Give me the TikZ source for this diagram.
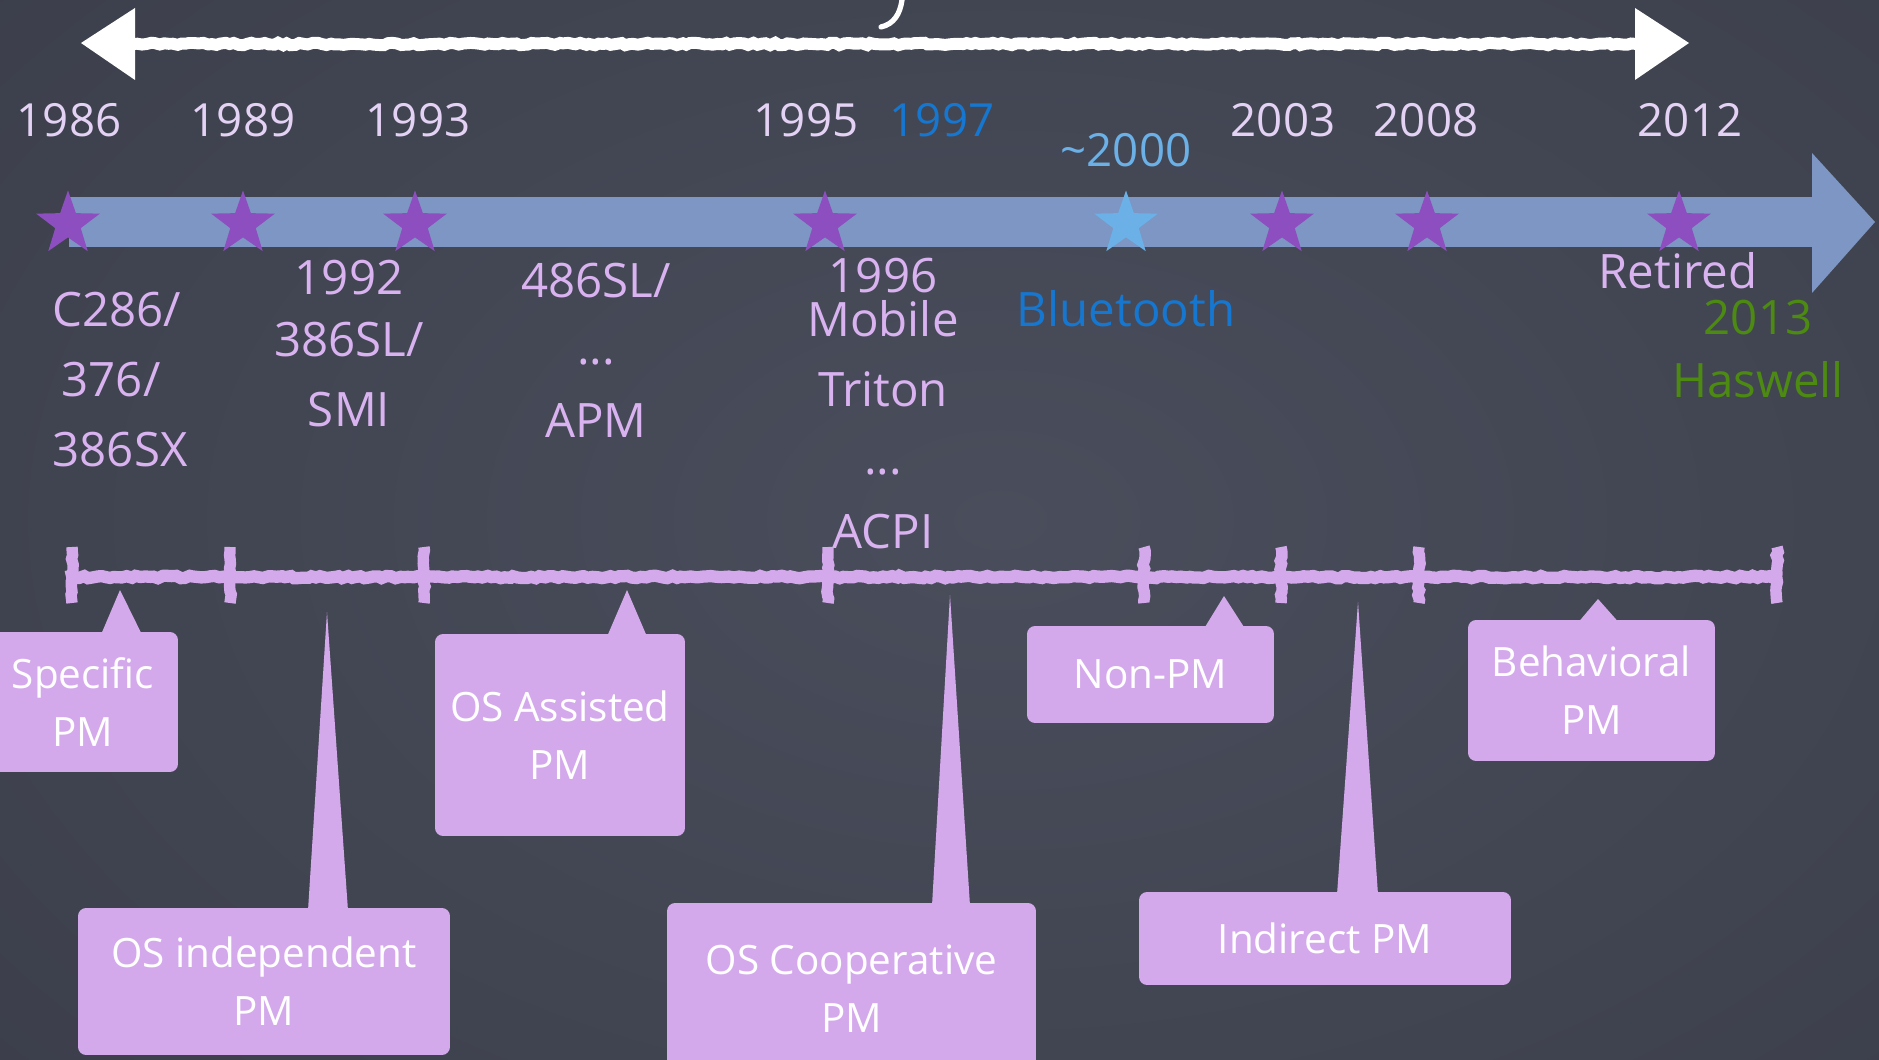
\documentclass[tikz,border=0pt]{standalone}
\usepackage{fontspec}
\setmainfont{Open Sans}
\usetikzlibrary{shapes.geometric,calc,decorations.pathmorphing}
\definecolor{board}{HTML}{3B3E4A}
\definecolor{boardlight}{HTML}{4A4E5C}
\definecolor{yearcol}{HTML}{E4D2F4}
\definecolor{labcol}{HTML}{D9B2F0}
\definecolor{boxcol}{HTML}{D4A9EC}
\definecolor{starcol}{HTML}{8D4FBF}
\definecolor{bandcol}{HTML}{7D96C3}
\definecolor{btblue}{HTML}{1677D0}
\definecolor{skyblue}{HTML}{6BB0E6}
\definecolor{hasgreen}{HTML}{4C8A12}
\pgfmathsetseed{7}
\begin{document}
\begin{tikzpicture}[x=0.02cm,y=-0.02cm,
  yr/.style={anchor=base,inner sep=0,text=yearcol,font=\fontsize{26}{30}\selectfont},
  lab/.style={anchor=base,inner sep=0,text=labcol,font=\fontsize{27}{32}\selectfont},
  pmbox/.style={fill=boxcol,rounded corners=0.16cm,text=white,align=center,inner sep=0,
    font=\fontsize{23}{33}\selectfont},
  pointer/.style={fill=boxcol},
  pstar/.style={star,star points=5,star point ratio=2.5,minimum size=1.34cm,inner sep=0,
    fill=starcol,draw=none},
  chalk/.style={line width=7pt,decorate,decoration={random steps,segment length=2.5pt,amplitude=0.7pt}},
]
\useasboundingbox (0,0) rectangle (1879,1060);

% chalkboard
\fill[board] (0,0) rectangle (1879,1060);
\begin{scope}
  \clip (0,0) rectangle (1879,1060);
  \shade[inner color=boardlight,outer color=board] (1000,520) ellipse (1400 and 900);
\end{scope}

% white chalk arrow across the top
\coordinate (aL) at (81,43);
\coordinate (aR) at (1689,43);
\draw[white,chalk,line width=6.8pt] (133,44) -- (1637,44);
\fill[white] (aL) -- (135,8) -- (135,80) -- cycle;
\fill[white] (aR) -- (1635,8) -- (1635,80) -- cycle;
\draw[white,line width=3pt,line cap=round] (902,0) .. controls (900,14) and (894,24) .. (881,27);

% years above the band
\node[yr] (y1986) at (69,137) {1986};
\node[yr] (y1989) at (243,137) {1989};
\node[yr] (y1993) at (418,137) {1993};
\node[yr] (y1995) at (806,137) {1995};
\node[yr,text=btblue] (y1997) at (942,137) {1997};
\node[yr,text=skyblue] (y2000) at (1126,167) {\textasciitilde2000};
\node[yr] (y2003) at (1283,137) {2003};
\node[yr] (y2008) at (1426,137) {2008};
\node[yr] (y2012) at (1690,137) {2012};

% blue band arrow
\fill[bandcol] (69,197) rectangle (1813,247);
\fill[bandcol] (1812,153) -- (1875,222) -- (1812,293) -- cycle;

% milestone stars
\foreach \n/\x in {s1/68,s2/243,s3/415,s4/825,s6/1282,s7/1427,s8/1679}
  \node[pstar] (\n) at (\x,224) {};
\node[pstar,fill=skyblue] (s5) at (1126,224) {};

% labels below the band
\node[lab] (c1a) at (117,327) {C286/};
\node[lab] (c1b) at (111,397) {376/};
\node[lab] (c1c) at (120,467) {386SX};
\node[lab] (c2a) at (349,295) {1992};
\node[lab] (c2b) at (349,357) {386SL/};
\node[lab] (c2c) at (349,427) {SMI};
\node[lab] (c3a) at (596,298) {486SL/};
\node[lab] (c3b) at (596,365) {...};
\node[lab] (c3c) at (596,438) {APM};
\node[lab] (c4a) at (883,293) {1996};
\node[lab] (c4b) at (883,337) {Mobile};
\node[lab] (c4c) at (883,407) {Triton};
\node[lab] (c4d) at (883,475) {...};
\node[lab] (c4e) at (883,548) {ACPI};
\node[lab,text=btblue] (bt) at (1126,327) {Bluetooth};
\node[lab] (ret) at (1678,289) {Retired};
\node[lab,text=hasgreen] (y2013) at (1758,335) {2013};
\node[lab,text=hasgreen] (has) at (1758,398) {Haswell};

% chalk timeline with ticks
\coordinate (tl0) at (66,577);
\coordinate (tl1) at (1779,577);
\draw[boxcol,chalk] (tl0) -- (tl1);
\foreach \x in {72,230,424,828,1144,1281,1419,1777}
  \draw[boxcol,chalk,line width=6.5pt] (\x,547) -- (\x,603);

% callout tips on the timeline
\coordinate (pA) at (120,590);
\coordinate (pB) at (327,612);
\coordinate (pC) at (627,590);
\coordinate (pD) at (950,595);
\coordinate (pE) at (1224,596);
\coordinate (pF) at (1358,602);
\coordinate (pG) at (1598,599);

% callout boxes
\node[pmbox,minimum width=3.8cm,minimum height=2.8cm] (spec) at (83,702) {Specific\\PM};
\node[pmbox,minimum width=7.44cm,minimum height=2.94cm] (osind) at (264,981.5) {OS independent\\PM};
\node[pmbox,minimum width=5cm,minimum height=4.04cm] (osass) at (560,735) {OS Assisted\\PM};
\node[pmbox,minimum width=7.38cm,minimum height=3.44cm] (oscoop) at (851.5,989) {OS Cooperative\\PM};
\node[pmbox,minimum width=4.94cm,minimum height=1.94cm] (nonpm) at (1150.5,674.5) {Non-PM};
\node[pmbox,minimum width=7.44cm,minimum height=1.86cm] (indir) at (1325,938.5) {Indirect PM};
\node[pmbox,minimum width=4.94cm,minimum height=2.82cm] (behav) at (1591.5,690.5) {Behavioral\\PM};

% pointers from boxes to the timeline
\fill[pointer] ($(spec.north)+(18,3)$) -- (pA) -- ($(spec.north)+(59,3)$) -- cycle;
\fill[pointer] ($(osind.north)+(44,3)$) -- (pB) -- ($(osind.north)+(84,3)$) -- cycle;
\fill[pointer] ($(osass.north)+(47,3)$) -- (pC) -- ($(osass.north)+(87,3)$) -- cycle;
\fill[pointer] ($(oscoop.north)+(80.5,3)$) -- (pD) -- ($(oscoop.north)+(118.5,3)$) -- cycle;
\fill[pointer] ($(nonpm.north)+(53.5,3)$) -- (pE) -- ($(nonpm.north)+(94.5,3)$) -- cycle;
\fill[pointer] ($(indir.north)+(12,3)$) -- (pF) -- ($(indir.north)+(53,3)$) -- cycle;
\fill[pointer] ($(behav.north)+(-13.5,3)$) -- (pG) -- ($(behav.north)+(27.5,3)$) -- cycle;
\end{tikzpicture}
\end{document}
